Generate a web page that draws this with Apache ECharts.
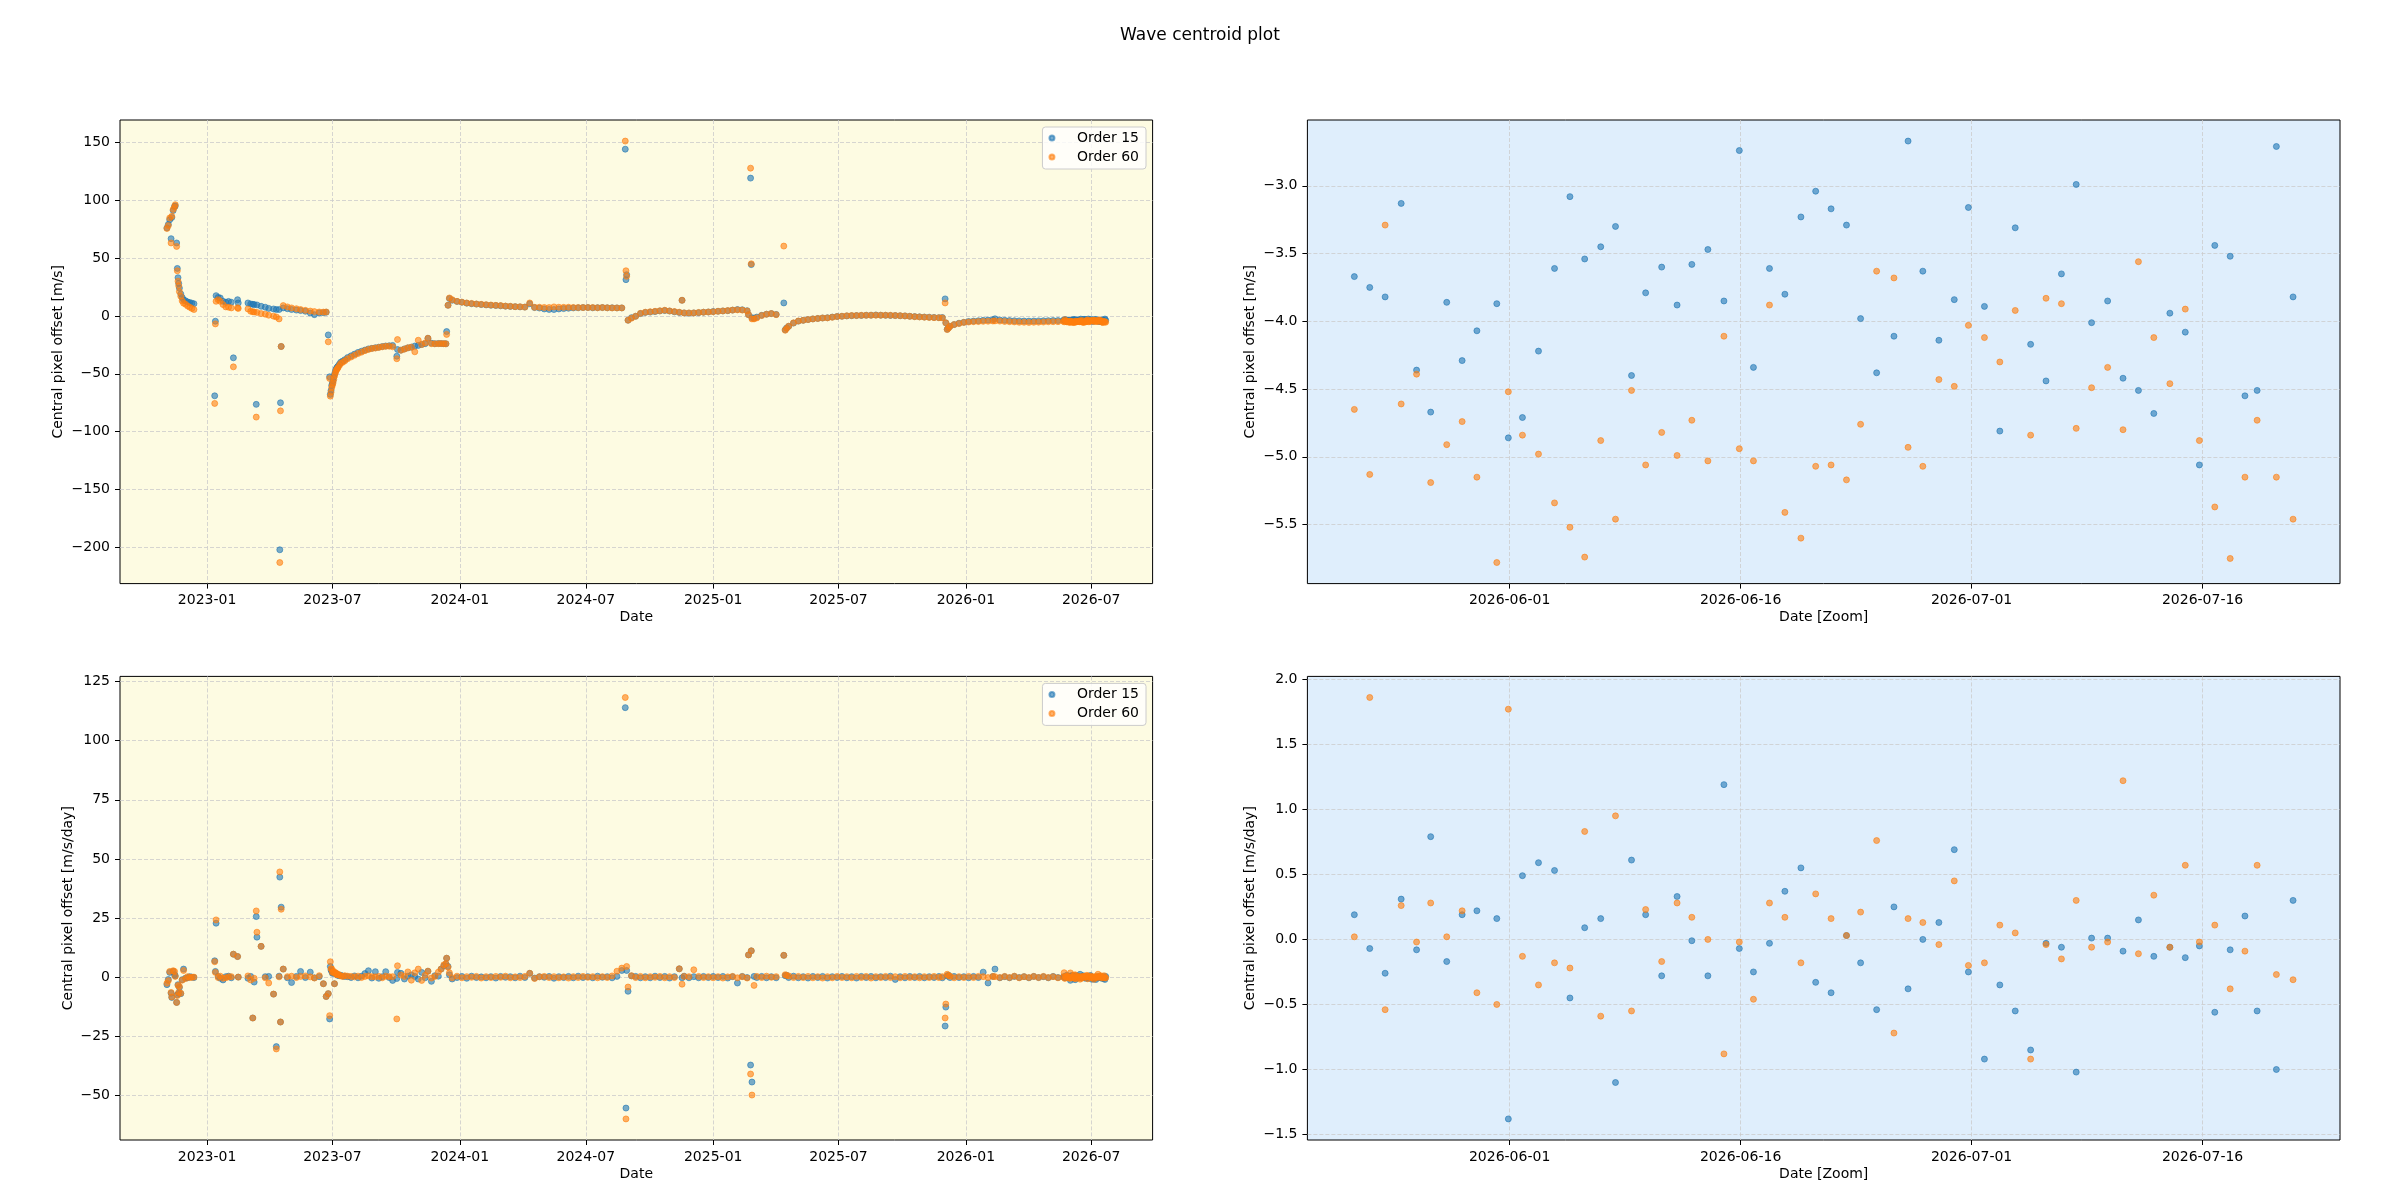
<!DOCTYPE html>
<html>
<head>
<meta charset="utf-8">
<title>Wave centroid plot</title>
<script src="https://cdn.jsdelivr.net/npm/echarts@6.0.0/dist/echarts.min.js"></script>
<style>
  html, body { margin: 0; padding: 0; background: #fff; }
  #main { width: 2400px; height: 1200px; }
</style>
</head>
<body>
<div id="main"></div>
<script>
// ---- long-term data ----
var longDates = [
  '2022-11-04','2022-11-06','2022-11-08','2022-11-10','2022-11-11','2022-11-13','2022-11-15','2022-11-16','2022-11-18','2022-11-19','2022-11-20','2022-11-21','2022-11-22','2022-11-24','2022-11-26','2022-11-28','2022-12-01','2022-12-04','2022-12-07','2022-12-10','2022-12-13',
  '2023-01-12','2023-01-13','2023-01-14','2023-01-17','2023-01-20','2023-01-24','2023-01-28','2023-02-01','2023-02-05','2023-02-08','2023-02-14','2023-02-15',
  '2023-03-01','2023-03-05','2023-03-08','2023-03-10','2023-03-13','2023-03-14','2023-03-20','2023-03-26','2023-03-31','2023-04-07','2023-04-11','2023-04-15','2023-04-16','2023-04-17','2023-04-18',
  '2023-04-21','2023-04-27','2023-05-03','2023-05-10','2023-05-16','2023-05-23','2023-05-30','2023-06-05','2023-06-12','2023-06-18','2023-06-22','2023-06-25','2023-06-27','2023-06-28',
  '2023-06-29','2023-06-30','2023-07-01','2023-07-02','2023-07-03','2023-07-04','2023-07-05','2023-07-06','2023-07-07','2023-07-08','2023-07-09','2023-07-11','2023-07-13','2023-07-16','2023-07-19','2023-07-23','2023-07-28','2023-08-02','2023-08-07','2023-08-12','2023-08-17','2023-08-22','2023-08-27','2023-09-01','2023-09-06','2023-09-11','2023-09-16','2023-09-21','2023-09-26',
  '2023-10-02','2023-10-03','2023-10-08','2023-10-13','2023-10-18','2023-10-23','2023-10-28','2023-11-02','2023-11-07','2023-11-12','2023-11-16','2023-11-21','2023-11-26','2023-12-01','2023-12-05','2023-12-09','2023-12-12','2023-12-13','2023-12-15',
  '2023-12-17','2023-12-21','2023-12-28','2024-01-04','2024-01-11','2024-01-18','2024-01-25','2024-02-01','2024-02-08','2024-02-15','2024-02-22','2024-02-29','2024-03-07','2024-03-14','2024-03-21','2024-03-28','2024-04-04','2024-04-11','2024-04-18','2024-04-25','2024-05-02','2024-05-09','2024-05-16','2024-05-23','2024-05-30','2024-06-06','2024-06-13','2024-06-20','2024-06-27','2024-07-04','2024-07-11','2024-07-18','2024-07-25','2024-08-01','2024-08-08','2024-08-15','2024-08-22','2024-08-27','2024-08-28','2024-08-29','2024-08-31',
  '2024-09-05','2024-09-11','2024-09-18','2024-09-25','2024-10-02','2024-10-09','2024-10-16','2024-10-23','2024-10-30','2024-11-06','2024-11-13','2024-11-17','2024-11-20','2024-11-27','2024-12-04','2024-12-11','2024-12-18','2024-12-25','2025-01-01','2025-01-08','2025-01-15','2025-01-22','2025-01-29','2025-02-05','2025-02-12','2025-02-19','2025-02-21','2025-02-24','2025-02-25','2025-02-26','2025-03-01','2025-03-05','2025-03-12','2025-03-19','2025-03-26','2025-04-02','2025-04-13',
  '2025-04-15','2025-04-17','2025-04-20','2025-04-27','2025-05-04','2025-05-11','2025-05-18','2025-05-25','2025-06-01','2025-06-08','2025-06-15','2025-06-22','2025-06-29','2025-07-06','2025-07-13','2025-07-20','2025-07-27','2025-08-03','2025-08-10','2025-08-17','2025-08-24','2025-08-31','2025-09-07','2025-09-14','2025-09-21','2025-09-28','2025-10-05','2025-10-12','2025-10-19','2025-10-26','2025-11-02','2025-11-09','2025-11-16','2025-11-23','2025-11-28','2025-12-02','2025-12-03',
  '2025-12-05','2025-12-07','2025-12-09','2025-12-15','2025-12-22','2025-12-29','2026-01-05','2026-01-12','2026-01-19','2026-01-26','2026-02-02','2026-02-09','2026-02-12','2026-02-19','2026-02-26','2026-03-05','2026-03-12','2026-03-19','2026-03-26','2026-04-02','2026-04-09','2026-04-16','2026-04-23','2026-04-30','2026-05-07','2026-05-14'
];
// central pixel offset [m/s]
var longOff15 = [
  76, 79, 83, 66.7, 85, 91, 94.5, 95, 63, 41, 33, 28, 24, 19, 16, 14, 13, 12, 11.5, 11, 10.5,
  -69, -4.6, 17.5, 16, 15.5, 12.6, 11.8, 12.5, 11.8, -36.2, 14, 11.2,
  11.2, 10.3, 10.0, 9.8, -76.4, 9.5, 8.3, 7.5, 6.5, 6.0, 5.5, 5.5, -202, -75, -26.4,
  6.9, 6.2, 5.5, 5.0, 4.6, 4.0, 2.5, 1.1, 2.6, 2.8, 3.2, -16.4, -52.6, -67.8,
  -64.5, -60, -58, -56, -53, -50.5, -48.5, -46.5, -45.2, -44.3, -43.5, -41.8, -40, -39, -37.8, -36, -34.5, -33, -31.5, -30.5, -29.5, -28.5, -28, -27.5, -27, -26.5, -26, -25.8, -25.5,
  -34.8, -29, -29.6, -28.5, -27.6, -27, -26, -25.5, -24.7, -24, -19.3, -23.5, -24, -23.8, -23.9, -24, -24.1, -13.5, 9.2,
  15, 13.5, 12.5, 11.8, 11.0, 10.5, 10.2, 9.8, 9.5, 9.2, 9.0, 8.7, 8.4, 8.2, 8.0, 7.8, 7.6, 10.5, 7.2, 6.8, 6.0, 5.6, 5.5, 6.0, 6.3, 6.6, 6.9, 7.0, 7.2, 7.2, 7.0, 7.1, 7.2, 7.0, 7.0, 6.9, 6.9, 144, 31.3, 35.6, -3.7,
  -1.5, -0.3, 2.0, 3.0, 3.3, 3.7, 4.3, 4.6, 4.2, 3.5, 3.0, 13.5, 2.6, 2.4, 2.6, 2.8, 3.2, 3.4, 3.8, 4.0, 4.3, 4.5, 5.0, 5.5, 5.3, 4.5, 1.1, 119, 44.3, -1.5, -2.0, -1.0, 0.5, 1.5, 2.0, 1.3, 11.2,
  -12, -10.5, -9.0, -6.2, -4.5, -3.8, -3.2, -2.6, -2.2, -1.8, -1.6, -1.0, -0.5, -0.3, 0.0, 0.2, 0.3, 0.4, 0.6, 0.6, 0.8, 0.6, 0.5, 0.4, 0.3, 0.1, 0.0, -0.3, -0.6, -0.8, -1.0, -1.1, -1.3, -1.5, -1.4, 14.7, -6.0,
  -11.5, -10.2, -9.0, -7.5, -6.3, -5.5, -4.8, -4.5, -4.2, -3.8, -3.6, -3.3, -2.5, -3.5, -3.8, -4.0, -4.2, -4.3, -4.4, -4.5, -4.4, -4.3, -4.2, -4.1, -4.0, -4.0
];
var longOff60 = [
  75.5, 78, 84.5, 63, 86, 92, 94, 96, 60, 39, 30, 26, 21, 17, 13, 11, 10, 8.5, 7.5, 6.5, 5.5,
  -75.6, -6.9, 12.6, 14, 12.6, 9.8, 7.8, 7.5, 6.9, -44, 7, 6.5,
  6.0, 4.0, 3.6, 3.4, -87.4, 3.0, 2.0, 1.5, 0.6, -0.2, -0.9, -2.6, -213, -82, -26.4,
  8.9, 7.8, 6.9, 6.2, 5.5, 4.8, 4.2, 3.7, 3.4, 3.3, 3.4, -22.4, -54, -69.3,
  -66, -62, -59.8, -57.8, -54.8, -52, -49.8, -47.7, -46.5, -45.6, -44.8, -42.9, -41, -40, -38.8, -37, -35.5, -34, -32.5, -31.3, -30, -29, -28.2, -27.8, -27.2, -26.7, -26.3, -26.1, -26.7,
  -37, -20.4, -29.6, -28.7, -27.6, -27, -31, -21, -24.7, -23.3, -19.3, -24, -24.1, -24, -23.9, -24, -24.1, -16, 9.2,
  15.5, 14, 12.6, 11.9, 11.2, 10.8, 10.3, 10.0, 9.7, 9.4, 9.1, 8.9, 8.5, 8.3, 8.0, 7.9, 7.6, 11.2, 7.4, 7.5, 7.3, 7.2, 7.8, 7.5, 7.4, 7.5, 7.3, 7.2, 7.2, 7.2, 7.2, 7.0, 7.2, 7.0, 6.9, 6.9, 6.9, 151, 39, 34.2, -3.7,
  -2.0, -0.3, 2.2, 3.2, 3.6, 4.0, 4.4, 4.9, 4.3, 3.8, 3.2, 13.5, 2.6, 2.6, 2.6, 3.0, 3.2, 3.4, 3.6, 4.0, 4.3, 4.6, 5.0, 5.2, 5.0, 4.3, 1.1, 127.6, 45, -2.6, -2.6, -1.7, 0.3, 1.4, 2.0, 1.1, 60.3,
  -12.4, -10.8, -8.9, -6.0, -4.4, -3.8, -3.2, -2.6, -2.2, -1.8, -1.7, -1.2, -0.6, -0.3, 0.1, 0.3, 0.3, 0.5, 0.5, 0.6, 0.6, 0.6, 0.6, 0.5, 0.3, 0.2, 0.0, -0.4, -0.7, -0.9, -1.1, -1.3, -1.5, -1.6, -1.7, 11.2, -6.0,
  -11.8, -10.4, -8.9, -7.5, -6.6, -5.6, -5.3, -5.0, -4.9, -4.7, -4.6, -4.4, -4.3, -4.5, -4.8, -5.0, -5.2, -5.5, -5.5, -5.6, -5.5, -5.4, -5.3, -5.1, -5.0, -5.0
];
// central pixel offset rate [m/s/day]
var longRate15 = [
  -3.2, -1.0, 2.0, -6.8, -8.6, 2.4, 1.0, 0.5, -10.7, -7.5, -3.2, -6.8, -4.4, -7.0, -1.1, 3.4, -0.4, -0.3, 0.2, 0.0, -0.2,
  6.9, 2.4, 22.8, 0.3, -0.5, -1.2, 0.2, 0.4, -0.3, 9.7, 8.7, 0,
  -0.5, 0.3, -17.3, -2.1, 25.6, 16.9, 13.0, 0.2, 0.3, -7.2, -29.4, 0.4, 42.3, -19, 29.6,
  3.4, -0.3, -2.3, 0.3, 2.4, -0.2, 2.1, -0.3, 0.2, -2.8, -8.2, -7.0, -17.7, 4.5,
  3.0, 2.5, 1.6, 1.8, 1.9, -2.8, 1.5, 1.5, 1.3, 0.8, 1.0, 0.6, 0.8, 0.4, 0.3, 0.2, -0.2, 0.5, -0.3, 0.4, 1.5, 2.7, -0.4, 2.3, -0.5, 0.2, 2.3, -0.2, -1.4,
  -0.6, 2.0, 1.6, -0.8, 0.4, 0.9, 0.3, -0.8, 2.0, -0.3, 2.5, -1.8, 0.6, 0.4, 3.4, 4.8, 5.6, 8.0, 4.5,
  1.0, -0.8, -0.2, 0.3, -0.5, 0.4, -0.2, 0.1, -0.3, 0.2, -0.4, 0.3, -0.1, 0.2, -0.3, 0.4, -0.2, 1.6, -0.4, 0.2, -0.1, 0.3, -0.5, 0.2, -0.2, 0.3, -0.3, 0.4, -0.2, 0.2, -0.3, 0.4, -0.1, 0.2, -0.3, 0.3, 2.8, 114, -55.4, 2.8, -6.0,
  0.5, 0.3, -0.3, 0.2, -0.3, 0.4, -0.2, 0.3, -0.4, 0.2, 3.5, -0.3, 0.4, -0.3, 0.2, -0.3, 0.3, -0.2, 0.3, -0.2, 0.3, -0.4, 0.2, -2.5, 0.3, -0.2, 9.4, -37.2, 11.1, -44.4, 0.3, -0.2, 0.3, -0.3, 0.2, -0.3, 9.2,
  0.6, 0.8, -0.2, 0.4, -0.3, 0.2, -0.4, 0.3, -0.2, 0.3, -0.4, 0.2, -0.2, 0.3, -0.3, 0.2, -0.4, 0.3, -0.2, 0.3, -0.3, 0.2, -0.2, 0.4, -1.0, 0.2, -0.3, 0.3, -0.2, 0.3, -0.3, 0.2, -0.2, 0.3, -0.3, -20.7, -12.7,
  0.5, 0.8, -0.2, 0.3, -0.2, 0.2, -0.3, 0.3, -0.2, 2.1, -2.5, 0.3, 3.4, -0.3, 0.2, -0.3, 0.3, -0.2, 0.2, -0.3, 0.3, -0.2, 0.2, -0.3, 0.3, -0.2
];
var longRate60 = [
  -2.6, -1.5, 2.4, -6.5, -8.4, 2.7, 2.4, 0.3, -10.7, -7.8, -3.5, -6.5, -4.0, -6.8, -1.3, 2.8, -0.6, 0.2, -0.2, -0.1, 0.0,
  6.5, 2.0, 24.2, -0.2, 0.4, -0.5, -0.3, 0.1, 0.2, 9.7, 8.7, 0,
  0.5, -1.2, -17.3, -0.5, 28.0, 19.0, 13.0, -0.3, -2.5, -7.2, -30.4, 0.1, 44.5, -19, 28.7,
  3.4, 0.2, 0.4, -0.2, 0.3, 0.5, 0.1, -0.4, 0.6, -2.8, -8.2, -7.0, -16.3, 6.5,
  3.5, 3.5, 2.0, 2.2, 2.4, -2.8, 1.6, 1.8, 1.1, 1.0, 1.2, 0.9, 0.5, 0.3, 0.6, 0.4, 0.3, 0.1, 0.4, -0.2, 0.3, 0.5, 0.2, 0.1, 0.3, -0.3, 0.4, 0.2, 0.2,
  -17.7, 4.8, 0.9, 0.3, 2.2, -1.3, 1.8, 3.4, -1.4, 0.8, 2.5, -0.4, 0.3, 2.1, 3.4, 5.2, 5.6, 8.0, 4.2,
  1.8, -0.3, 0.4, -0.3, 0.2, -0.1, 0.3, -0.4, 0.2, -0.2, 0.3, -0.1, 0.4, -0.3, 0.1, -0.2, 0.3, 1.6, -0.6, 0.1, 0.3, -0.2, 0.2, -0.3, 0.1, -0.4, 0.2, -0.2, 0.3, -0.1, 0.2, -0.3, 0.2, -0.2, 0.5, 2.5, 3.8, 118.3, -60, 4.5, -4.2,
  0.6, -0.2, 0.3, -0.3, 0.2, -0.1, 0.3, -0.3, 0.2, -0.2, 3.5, -3.0, 0.3, 0.2, 3.1, 0.3, -0.2, 0.2, -0.3, 0.2, -0.4, 0.1, 0.3, -0.3, 0.2, -0.4, 9.4, -41, 11.1, -49.9, -3.5, 0.3, -0.2, 0.4, -0.1, 0.2, 9.2,
  1.0, 0.7, 0.5, -0.2, 0.3, -0.2, 0.3, -0.3, 0.2, -0.4, 0.2, -0.3, 0.3, -0.2, 0.2, -0.3, 0.3, -0.2, 0.3, -0.4, 0.2, -0.2, 0.3, -0.2, 0.2, -0.3, 0.3, -0.2, 0.2, -0.3, 0.2, -0.2, 0.3, -0.2, 0.2, -17.3, -11.4,
  1.2, 0.6, 0.4, -0.3, 0.2, -0.2, 0.3, -0.2, 0.3, 0.2, -0.2, 0.3, 0.2, -0.2, 0.3, -0.2, 0.4, -0.3, 0.2, -0.2, 0.3, -0.2, 0.3, -0.2, 0.2, -0.3
];

// ---- last two months (zoom panels) ----
var zoomDates = [
  '2026-05-21 22:00','2026-05-22 22:00','2026-05-23 22:00','2026-05-24 23:00','2026-05-25 23:00','2026-05-26 21:00','2026-05-27 22:00','2026-05-28 22:00','2026-05-29 21:00','2026-05-31 04:00',
  '2026-05-31 22:00','2026-06-01 20:00','2026-06-02 21:00','2026-06-03 22:00','2026-06-04 22:00','2026-06-05 21:00','2026-06-06 22:00','2026-06-07 21:00','2026-06-08 22:00','2026-06-09 20:00',
  '2026-06-10 21:00','2026-06-11 21:00','2026-06-12 20:00','2026-06-13 21:00','2026-06-14 22:00','2026-06-15 22:00','2026-06-16 20:00','2026-06-17 21:00','2026-06-18 21:00','2026-06-19 22:00',
  '2026-06-20 21:00','2026-06-21 21:00','2026-06-22 21:00','2026-06-23 19:00','2026-06-24 20:00','2026-06-25 23:00','2026-06-26 21:00','2026-06-27 20:00','2026-06-28 21:00','2026-06-29 21:00',
  '2026-06-30 19:00','2026-07-01 20:00','2026-07-02 20:00','2026-07-03 20:00','2026-07-04 20:00','2026-07-05 20:00','2026-07-06 20:00','2026-07-07 19:00','2026-07-08 19:00','2026-07-09 20:00',
  '2026-07-10 20:00','2026-07-11 20:00','2026-07-12 20:00','2026-07-13 21:00','2026-07-14 21:00','2026-07-15 19:00','2026-07-16 19:00','2026-07-17 19:00','2026-07-18 18:00','2026-07-19 13:00',
  '2026-07-20 19:00','2026-07-21 21:00'
];
var zoomOff15 = [
  -3.67, -3.75, -3.82, -3.13, -4.36, -4.67, -3.86, -4.29, -4.07, -3.87,
  -4.86, -4.71, -4.22, -3.61, -3.08, -3.54, -3.45, -3.30, -4.40, -3.79,
  -3.60, -3.88, -3.58, -3.47, -3.85, -2.74, -4.34, -3.61, -3.80, -3.23,
  -3.04, -3.17, -3.29, -3.98, -4.38, -4.11, -2.67, -3.63, -4.14, -3.84,
  -3.16, -3.89, -4.81, -3.31, -4.17, -4.44, -3.65, -2.99, -4.01, -3.85,
  -4.42, -4.51, -4.68, -3.94, -4.08, -5.06, -3.44, -3.52, -4.55, -4.51,
  -2.71, -3.82
];
var zoomOff60 = [
  -4.65, -5.13, -3.29, -4.61, -4.39, -5.19, -4.91, -4.74, -5.15, -5.78,
  -4.52, -4.84, -4.98, -5.34, -5.52, -5.74, -4.88, -5.46, -4.51, -5.06,
  -4.82, -4.99, -4.73, -5.03, -4.11, -4.94, -5.03, -3.88, -5.41, -5.60,
  -5.07, -5.06, -5.17, -4.76, -3.63, -3.68, -4.93, -5.07, -4.43, -4.48,
  -4.03, -4.12, -4.30, -3.92, -4.84, -3.83, -3.87, -4.79, -4.49, -4.34,
  -4.80, -3.56, -4.12, -4.46, -3.91, -4.88, -5.37, -5.75, -5.15, -4.73,
  -5.15, -5.46
];
var zoomRate15 = [
  0.19, -0.07, -0.26, 0.31, -0.08, 0.79, -0.17, 0.19, 0.22, 0.16,
  -1.38, 0.49, 0.59, 0.53, -0.45, 0.09, 0.16, -1.10, 0.61, 0.19,
  -0.28, 0.33, -0.01, -0.28, 1.19, -0.07, -0.25, -0.03, 0.37, 0.55,
  -0.33, -0.41, 0.03, -0.18, -0.54, 0.25, -0.38, 0.00, 0.13, 0.69,
  -0.25, -0.92, -0.35, -0.55, -0.85, -0.03, -0.06, -1.02, 0.01, 0.01,
  -0.09, 0.15, -0.13, -0.06, -0.14, -0.05, -0.56, -0.08, 0.18, -0.55,
  -1.00, 0.30
];
var zoomRate60 = [
  0.02, 1.86, -0.54, 0.26, -0.02, 0.28, 0.02, 0.22, -0.41, -0.50,
  1.77, -0.13, -0.35, -0.18, -0.22, 0.83, -0.59, 0.95, -0.55, 0.23,
  -0.17, 0.28, 0.17, 0.00, -0.88, -0.02, -0.46, 0.28, 0.17, -0.18,
  0.35, 0.16, 0.03, 0.21, 0.76, -0.72, 0.16, 0.13, -0.04, 0.45,
  -0.20, -0.18, 0.11, 0.05, -0.92, -0.04, -0.15, 0.30, -0.06, -0.02,
  1.22, -0.11, 0.34, -0.06, 0.57, -0.02, 0.11, -0.38, -0.09, 0.57,
  -0.27, -0.31
];

// ---- tick labels ----
var longTicks = ['2023-01-01', '2023-07-01', '2024-01-01', '2024-07-01', '2025-01-01', '2025-07-01', '2026-01-01', '2026-07-01'];
var zoomTicks = ['2026-06-01', '2026-06-16', '2026-07-01', '2026-07-16'];
var offTicks = [-200, -150, -100, -50, 0, 50, 100, 150];
var rateTicks = [-50, -25, 0, 25, 50, 75, 100, 125];
var zoomOffTicks = [-5.5, -5.0, -4.5, -4.0, -3.5, -3.0];
var zoomRateTicks = [-1.5, -1.0, -0.5, 0.0, 0.5, 1.0, 1.5, 2.0];

(function() {
  var FONT = 'DejaVu Sans';
  var C15 = '#1f77b4';
  var C60 = '#ff7f0e';
  var YELLOW = '#fdfbe2';
  var BLUE = '#dfeefc';

  function toTime(s) {
    var p = s.split(/[- :]/);
    return Date.UTC(+p[0], +p[1] - 1, +p[2], +(p[3] || 0), +(p[4] || 0));
  }
  function pairs(dates, values) {
    return dates.map(function(d, i) { return [toTime(d), values[i]]; });
  }
  // matplotlib style 5% margins
  function padded(list) {
    var lo = Math.min.apply(null, list);
    var hi = Math.max.apply(null, list);
    var m = (hi - lo) * 0.05;
    return [lo - m, hi + m];
  }
  function pad2(n) { return n < 10 ? '0' + n : '' + n; }
  function fmtMonth(v) {
    var d = new Date(v);
    return d.getUTCFullYear() + '-' + pad2(d.getUTCMonth() + 1);
  }
  function fmtDay(v) {
    var d = new Date(v);
    return d.getUTCFullYear() + '-' + pad2(d.getUTCMonth() + 1) + '-' + pad2(d.getUTCDate());
  }
  function fmtInt(v) { return String(Math.round(v)).replace('-', '\u2212'); }
  function fmtOne(v) { return v.toFixed(1).replace('-', '\u2212'); }

  var allDates = longDates.concat(zoomDates);
  var all15 = longOff15.concat(zoomOff15);
  var all60 = longOff60.concat(zoomOff60);
  var allR15 = longRate15.concat(zoomRate15);
  var allR60 = longRate60.concat(zoomRate60);

  var longX = padded(allDates.map(toTime));
  var zoomX = padded(zoomDates.map(toTime));
  var offY = padded(all15.concat(all60));
  var rateY = padded(allR15.concat(allR60));
  var zoomOffY = padded(zoomOff15.concat(zoomOff60));
  var zoomRateY = padded(zoomRate15.concat(zoomRate60));

  var W = 1032.6, H = 463.6;
  var grids = [
    { left: 120, top: 120, width: W, height: H, bg: YELLOW },
    { left: 1307.4, top: 120, width: W, height: H, bg: BLUE },
    { left: 120, top: 676.4, width: W, height: H, bg: YELLOW },
    { left: 1307.4, top: 676.4, width: W, height: H, bg: BLUE }
  ];

  var textStyle = { fontFamily: FONT, fontSize: 14, color: '#000' };
  var splitLine = { show: true, lineStyle: { color: '#cccccc', width: 0.8, type: [4, 2] } };

  function xAxis(idx, ext, ticks, fmt, name) {
    var vals = ticks.map(toTime);
    return {
      type: 'value', gridIndex: idx, min: ext[0], max: ext[1],
      name: name, nameLocation: 'middle', nameGap: 27, nameTextStyle: textStyle,
      axisLine: { show: false, onZero: false },
      axisTick: { show: true, length: 5, customValues: vals, lineStyle: { color: '#000', width: 1 } },
      axisLabel: Object.assign({ customValues: vals, formatter: fmt, margin: 10 }, textStyle),
      splitLine: splitLine
    };
  }
  function yAxis(idx, ext, ticks, fmt, name, gap) {
    return {
      type: 'value', gridIndex: idx, min: ext[0], max: ext[1],
      name: name, nameLocation: 'middle', nameGap: gap, nameTextStyle: textStyle,
      axisLine: { show: false, onZero: false },
      axisTick: { show: true, length: 5, customValues: ticks, lineStyle: { color: '#000', width: 1 } },
      axisLabel: Object.assign({ customValues: ticks, formatter: fmt, margin: 10 }, textStyle),
      splitLine: splitLine
    };
  }
  function scatter(name, idx, data, color) {
    return {
      name: name, type: 'scatter', xAxisIndex: idx, yAxisIndex: idx,
      symbol: 'circle', symbolSize: 6, data: data, silent: true,
      itemStyle: { color: color, opacity: 0.6, borderColor: color, borderWidth: 1 }
    };
  }
  function legend(top) {
    return {
      data: ['Order 15', 'Order 60'], orient: 'vertical', right: 2400 - 1146, top: top,
      icon: 'circle', itemWidth: 26, itemHeight: 5, itemGap: 5,
      padding: [4, 7, 5, 6],
      backgroundColor: 'rgba(255,255,255,0.8)', borderColor: '#cccccc', borderWidth: 1, borderRadius: 3,
      textStyle: { fontFamily: FONT, fontSize: 14, color: '#000', padding: [0, 0, 0, 7] },
      selectedMode: false
    };
  }

  var option = {
    animation: false,
    backgroundColor: '#fff',
    title: {
      text: 'Wave centroid plot', left: 'center', top: 22,
      textStyle: { fontFamily: FONT, fontSize: 17, fontWeight: 'normal', color: '#000' }
    },
    legend: [legend(127), legend(683.4)],
    grid: grids.map(function(g) {
      return {
        left: g.left, top: g.top, width: g.width, height: g.height,
        show: true, backgroundColor: g.bg, borderColor: '#000', borderWidth: 1, containLabel: false
      };
    }),
    xAxis: [
      xAxis(0, longX, longTicks, fmtMonth, 'Date'),
      xAxis(1, zoomX, zoomTicks, fmtDay, 'Date [Zoom]'),
      xAxis(2, longX, longTicks, fmtMonth, 'Date'),
      xAxis(3, zoomX, zoomTicks, fmtDay, 'Date [Zoom]')
    ],
    yAxis: [
      yAxis(0, offY, offTicks, fmtInt, 'Central pixel offset [m/s]', 55),
      yAxis(1, zoomOffY, zoomOffTicks, fmtOne, 'Central pixel offset [m/s]', 50),
      yAxis(2, rateY, rateTicks, fmtInt, 'Central pixel offset [m/s/day]', 45),
      yAxis(3, zoomRateY, zoomRateTicks, fmtOne, 'Central pixel offset [m/s/day]', 50)
    ],
    series: [
      scatter('Order 15', 0, pairs(allDates, all15), C15),
      scatter('Order 60', 0, pairs(allDates, all60), C60),
      scatter('Order 15', 1, pairs(zoomDates, zoomOff15), C15),
      scatter('Order 60', 1, pairs(zoomDates, zoomOff60), C60),
      scatter('Order 15', 2, pairs(allDates, allR15), C15),
      scatter('Order 60', 2, pairs(allDates, allR60), C60),
      scatter('Order 15', 3, pairs(zoomDates, zoomRate15), C15),
      scatter('Order 60', 3, pairs(zoomDates, zoomRate60), C60)
    ]
  };

  var chart = echarts.init(document.getElementById('main'), null, { renderer: 'canvas' });
  chart.setOption(option);
})();
</script>
</body>
</html>
